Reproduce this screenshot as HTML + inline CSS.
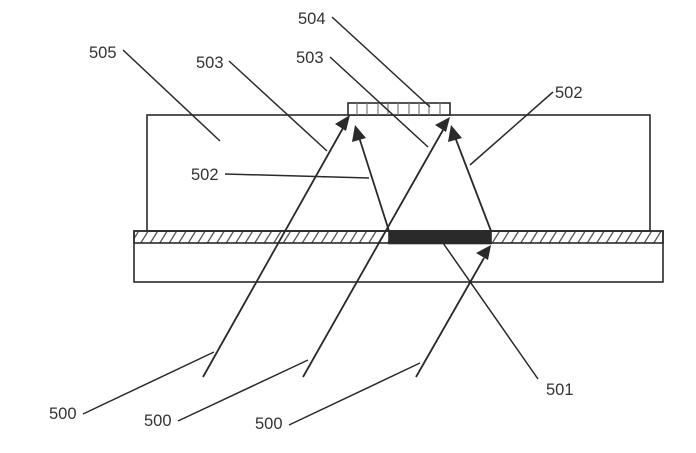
<!DOCTYPE html>
<html><head><meta charset="utf-8"><style>
html,body{margin:0;padding:0;background:#fff}
svg{display:block}
text{font-family:"Liberation Sans",sans-serif;font-size:16.5px;fill:#333}
</style></head><body>
<svg width="696" height="453" viewBox="0 0 696 453" xmlns="http://www.w3.org/2000/svg">
<defs>
<pattern id="h" width="9.500" height="12" patternUnits="userSpaceOnUse" patternTransform="translate(134 231)">
<path d="M-4 14L6 -2M5.500 14L15.500 -2" stroke="#555" stroke-width="1.3" fill="none"/>
</pattern>
</defs>
<rect width="696" height="453" fill="#fff"/>
<g fill="none" stroke="#2a2a2a" stroke-width="1.6">
<rect x="147" y="115" width="503" height="116"/>
<rect x="134" y="231" width="529" height="51"/>
<rect x="134" y="231" width="529" height="12" fill="url(#h)"/>
<rect x="389" y="231" width="102" height="12.500" fill="#2a2a2a"/>
<rect x="348" y="103" width="102" height="12" fill="#fff"/>
<path d="M357 103V115M367 103V115M378 103V115M388 103V115M398 103V115M409 103V115M419 103V115M429 103V115M440 103V115" stroke="#777" stroke-width="1.2"/>
<g stroke-width="1.5">
<path d="M123 50L220 141M229 61L327 151M330 57L428 147M332 17L430 107"/>
<path d="M553 92L470 165M225 174L369 178M538 379L443 243"/>
<path d="M83 414L214 352M178 421L308 360M289 425L420 363"/>
</g>
<g stroke-width="1.8">
<path d="M203 377L343 128M303 377L443 130M416 377L484 258M389 231L359 137M491 231L455 137"/>
</g>
</g>
<g fill="#2a2a2a">
<polygon points="350,115 346,131 335,124"/>
<polygon points="450,117 446,132 435,125"/>
<polygon points="491,245 488,260 476,253"/>
<polygon points="355,125 366,138 352,142"/>
<polygon points="451,125 462,138 448,142"/>
</g>
<text x="89" y="58">505</text>
<text x="196" y="68">503</text>
<text x="296" y="63">503</text>
<text x="298" y="24">504</text>
<text x="555" y="98">502</text>
<text x="191" y="180">502</text>
<text x="546" y="395">501</text>
<text x="49" y="419">500</text>
<text x="144" y="426">500</text>
<text x="255" y="429">500</text>
</svg>
</body></html>
